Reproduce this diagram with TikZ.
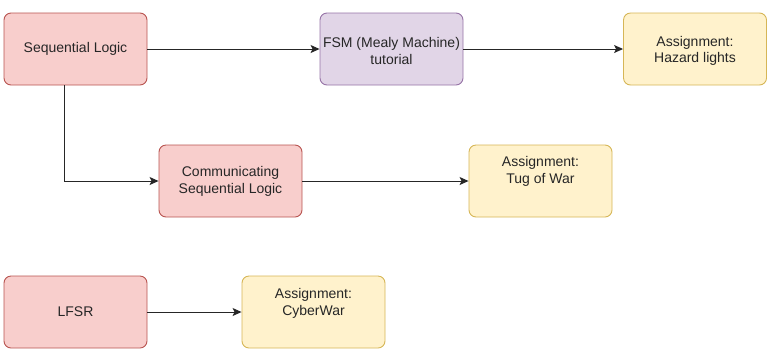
\documentclass[tikz,border=0pt]{standalone}
\usepackage{fontspec}
\setmainfont{Liberation Sans}
\usetikzlibrary{arrows.meta}
\definecolor{redfill}{HTML}{F8CECC}
\definecolor{redline}{HTML}{B85450}
\definecolor{purfill}{HTML}{E1D5E7}
\definecolor{purline}{HTML}{9673A6}
\definecolor{yelfill}{HTML}{FFF2CC}
\definecolor{yelline}{HTML}{D6B656}
\tikzset{
  box/.style={rectangle, rounded corners=7pt, minimum width=143pt, minimum height=72pt, line width=0.9pt, inner sep=0pt},
  redbox/.style={box, fill=redfill, draw=redline},
  purbox/.style={box, fill=purfill, draw=purline},
  yelbox/.style={box, fill=yelfill, draw=yelline},
  txt/.style={font=\fontsize{14}{16.5}\selectfont, align=center, inner sep=0pt, text=black!85},
  conn/.style={line width=0.9pt, draw=black!85, -{Stealth[length=9pt,width=8pt,inset=2pt]}}
}
\begin{document}
\begin{tikzpicture}[x=1pt,y=-1pt]
\useasboundingbox (0,0) rectangle (767,360);
% boxes
\node[redbox] (seq) at (75.5,49) {};
\node[purbox] (fsm) at (391.5,49) {};
\node[yelbox] (haz) at (695,49) {};
\node[redbox] (comm) at (230.5,181) {};
\node[yelbox] (tug) at (540.5,181) {};
\node[redbox] (lfsr) at (75.5,312) {};
\node[yelbox] (cyber) at (313.5,312) {};
% texts
\node[txt] (seqt) at (75.5,49) {Sequential Logic};
\node[txt] (fsmt) at (391.5,51) {FSM (Mealy Machine)\\tutorial};
\node[txt] (hazt) at (695,51) {Assignment:\\Hazard lights};
\node[txt] (commt) at (230.5,181.5) {Communicating\\Sequential Logic};
\node[txt] (tugt) at (540.5,171.5) {Assignment:\\Tug of War};
\node[txt] (lfsrt) at (75.5,312) {LFSR};
\node[txt] (cybert) at (313.5,303.5) {Assignment:\\CyberWar};
% connectors
\draw[conn] (seq.east) -- (fsm.west);
\draw[conn] (fsm.east) -- (haz.west);
\draw[conn] ([xshift=-11.5pt]seq.south) |- (comm.west);
\draw[conn] (comm.east) -- (tug.west);
\draw[conn] (lfsr.east) -- (cyber.west);
\end{tikzpicture}
\end{document}
